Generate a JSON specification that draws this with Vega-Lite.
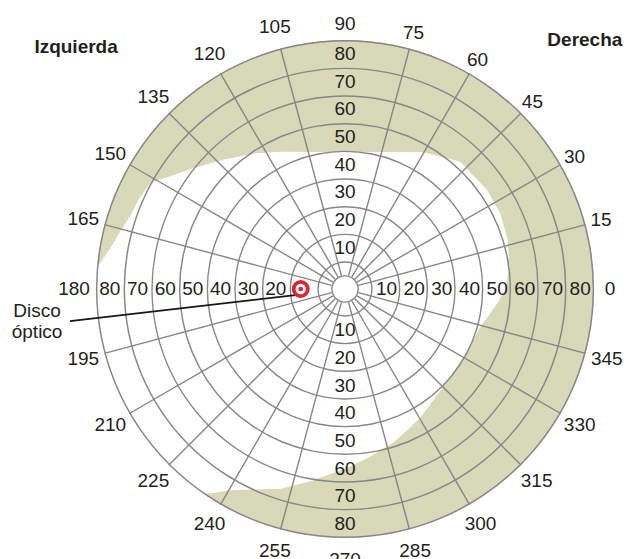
{
  "$schema": "https://vega.github.io/schema/vega-lite/v6.json",
  "width": 498,
  "height": 498,
  "autosize": {"type": "none"},
  "padding": {"left": 96, "top": 40, "right": 37, "bottom": 21},
  "background": "white",
  "config": {"view": {"stroke": null}},
  "datasets": {
    "rings": [{"r": 5}, {"r": 10}, {"r": 20}, {"r": 30}, {"r": 40}, {"r": 50}, {"r": 60}, {"r": 70}, {"r": 80}, {"r": 90}],
    "spokes": [{"a": 15}, {"a": 30}, {"a": 45}, {"a": 60}, {"a": 75}, {"a": 105}, {"a": 120}, {"a": 135}, {"a": 150}, {"a": 165}, {"a": 195}, {"a": 210}, {"a": 225}, {"a": 240}, {"a": 255}, {"a": 285}, {"a": 300}, {"a": 315}, {"a": 330}, {"a": 345}],
    "ringLabels": [
      {"a": 90, "ring": 10}, {"a": 90, "ring": 20}, {"a": 90, "ring": 30}, {"a": 90, "ring": 40}, {"a": 90, "ring": 50}, {"a": 90, "ring": 60}, {"a": 90, "ring": 70}, {"a": 90, "ring": 80},
      {"a": 270, "ring": 10}, {"a": 270, "ring": 20}, {"a": 270, "ring": 30}, {"a": 270, "ring": 40}, {"a": 270, "ring": 50}, {"a": 270, "ring": 60}, {"a": 270, "ring": 70}, {"a": 270, "ring": 80},
      {"a": 0, "ring": 10}, {"a": 0, "ring": 20}, {"a": 0, "ring": 30}, {"a": 0, "ring": 40}, {"a": 0, "ring": 50}, {"a": 0, "ring": 60}, {"a": 0, "ring": 70}, {"a": 0, "ring": 80},
      {"a": 180, "ring": 20}, {"a": 180, "ring": 30}, {"a": 180, "ring": 40}, {"a": 180, "ring": 50}, {"a": 180, "ring": 60}, {"a": 180, "ring": 70}, {"a": 180, "ring": 80}
    ],
    "angleLabels": [{"a": 0}, {"a": 15}, {"a": 30}, {"a": 45}, {"a": 60}, {"a": 75}, {"a": 90}, {"a": 105}, {"a": 120}, {"a": 135}, {"a": 150}, {"a": 165}, {"a": 180}, {"a": 195}, {"a": 210}, {"a": 225}, {"a": 240}, {"a": 255}, {"a": 270}, {"a": 285}, {"a": 300}, {"a": 315}, {"a": 330}, {"a": 345}],
    "field": [
      {"x": 58.0, "y": 0.0}, {"x": 59.4, "y": 8.3}, {"x": 58.8, "y": 18.0}, {"x": 56.1, "y": 27.4}, {"x": 51.3, "y": 35.9}, {"x": 41.5, "y": 46.1}, {"x": 28.5, "y": 49.4}, {"x": 20.0, "y": 49.5}, {"x": 8.7, "y": 49.5}, {"x": 0, "y": 49.5}, {"x": -8.7, "y": 49.5}, {"x": -23.1, "y": 49.6}, {"x": -31.9, "y": 49.1}, {"x": -43.6, "y": 46.8}, {"x": -55.6, "y": 43.5}, {"x": -64.4, "y": 40.3}, {"x": -70.0, "y": 38.8}, {"x": -74.2, "y": 33.0}, {"x": -77.5, "y": 26.7}, {"x": -81.5, "y": 20.3}, {"x": -84.7, "y": 14.9}, {"x": -88.5, "y": 9.3}, {"x": -92.9, "y": 4.9}, {"x": -87.4, "y": -31.8}, {"x": -71.2, "y": -59.8}, {"x": -57.3, "y": -73.3}, {"x": -51.6, "y": -73.7}, {"x": -47.9, "y": -73.8}, {"x": -42.0, "y": -72.7}, {"x": -33.8, "y": -72.5}, {"x": -23.5, "y": -72.3}, {"x": -12.2, "y": -69.4}, {"x": 0, "y": -65}, {"x": 8.6, "y": -60.9}, {"x": 17.9, "y": -55.2}, {"x": 27.0, "y": -46.8}, {"x": 34.4, "y": -36.9}, {"x": 37.9, "y": -31.8}, {"x": 42.7, "y": -24.7}, {"x": 47.0, "y": -17.1}, {"x": 49.3, "y": -13.2}, {"x": 52.2, "y": -9.2}, {"x": 55.3, "y": -4.8}
    ],
    "sides": [{"label": "Izquierda", "x": -97.2, "y": 87.5}, {"label": "Derecha", "x": 86.7, "y": 90.0}]
  },
  "layer": [
    {
      "data": {"values": [{"zone": "campo ciego"}]},
      "mark": {"type": "arc", "theta": 0, "theta2": 6.2832, "fill": "#d8d9b9"},
      "encoding": {"radius": {"datum": 90, "type": "quantitative", "scale": {"type": "linear", "domain": [0, 90], "range": [0, 249], "zero": true, "nice": false}}}
    },
    {
      "data": {"name": "field"},
      "mark": {"type": "line", "filled": true, "fill": "white", "interpolate": "linear-closed", "strokeWidth": 0},
      "encoding": {
        "x": {"field": "x", "type": "quantitative", "scale": {"domain": [-90, 90], "nice": false, "zero": false}, "axis": null},
        "y": {"field": "y", "type": "quantitative", "scale": {"domain": [-90, 90], "nice": false, "zero": false}, "axis": null},
        "order": {"value": null}
      }
    },
    {
      "data": {"name": "rings"},
      "mark": {"type": "arc", "theta": 0, "theta2": 6.2832, "fill": "#868686", "radius2Offset": -1.4},
      "encoding": {
        "radius": {"field": "r", "type": "quantitative", "scale": {"type": "linear", "domain": [0, 90], "range": [0, 249], "zero": true, "nice": false}},
        "radius2": {"field": "r"}
      }
    },
    {
      "data": {"name": "spokes"},
      "mark": {"type": "arc", "filled": false, "stroke": "#868686", "strokeWidth": 1.4},
      "encoding": {
        "theta": {"field": "a", "type": "quantitative", "stack": null, "scale": {"type": "linear", "domain": [0, 360], "range": [1.5707963, -4.712389]}},
        "theta2": {"field": "a"},
        "radius": {"datum": 90, "type": "quantitative", "scale": {"type": "linear", "domain": [0, 90], "range": [0, 249], "zero": true, "nice": false}},
        "radius2": {"datum": 5}
      }
    },
    {
      "data": {"name": "ringLabels"},
      "mark": {"type": "text", "radiusOffset": 13.8, "font": "Liberation Sans", "fontSize": 19, "fill": "#231f20", "align": "center", "baseline": "middle"},
      "encoding": {
        "theta": {"field": "a", "type": "quantitative", "stack": null, "scale": {"type": "linear", "domain": [0, 360], "range": [1.5707963, -4.712389]}},
        "radius": {"field": "ring", "type": "quantitative", "scale": {"type": "linear", "domain": [0, 90], "range": [0, 249], "zero": true, "nice": false}},
        "text": {"field": "ring", "type": "quantitative"}
      }
    },
    {
      "data": {"name": "angleLabels"},
      "transform": [{"filter": "datum.a <= 90"}],
      "mark": {"type": "text", "radiusOffset": 16, "font": "Liberation Sans", "fontSize": 19, "fill": "#231f20", "align": "center", "baseline": "middle"},
      "encoding": {
        "theta": {"field": "a", "type": "quantitative", "stack": null, "scale": {"type": "linear", "domain": [0, 360], "range": [1.5707963, -4.712389]}},
        "radius": {"datum": 90, "type": "quantitative", "scale": {"type": "linear", "domain": [0, 90], "range": [0, 249], "zero": true, "nice": false}},
        "text": {"field": "a", "type": "quantitative"}
      }
    },
    {
      "data": {"name": "angleLabels"},
      "transform": [{"filter": "datum.a > 90"}],
      "mark": {"type": "text", "radiusOffset": 22, "font": "Liberation Sans", "fontSize": 19, "fill": "#231f20", "align": "center", "baseline": "middle"},
      "encoding": {
        "theta": {"field": "a", "type": "quantitative", "stack": null, "scale": {"type": "linear", "domain": [0, 360], "range": [1.5707963, -4.712389]}},
        "radius": {"datum": 90, "type": "quantitative", "scale": {"type": "linear", "domain": [0, 90], "range": [0, 249], "zero": true, "nice": false}},
        "text": {"field": "a", "type": "quantitative"}
      }
    },
    {
      "data": {"name": "sides"},
      "mark": {"type": "text", "font": "Liberation Sans", "fontSize": 19, "fontWeight": "bold", "fill": "#231f20", "align": "center", "baseline": "middle"},
      "encoding": {
        "x": {"field": "x", "type": "quantitative"},
        "y": {"field": "y", "type": "quantitative"},
        "text": {"field": "label", "type": "nominal"}
      }
    },
    {
      "data": {"values": [{"x": -99.4, "y": -11.6, "x2": -18.0, "y2": -2.2}]},
      "mark": {"type": "rule", "stroke": "#161616", "strokeWidth": 1.6},
      "encoding": {
        "x": {"field": "x", "type": "quantitative"},
        "y": {"field": "y", "type": "quantitative"},
        "x2": {"field": "x2"},
        "y2": {"field": "y2"}
      }
    },
    {
      "data": {"values": [{"t": "Disco óptico", "x": -111.3, "y": -8.0}]},
      "mark": {"type": "text", "font": "Liberation Sans", "fontSize": 19, "fill": "#231f20", "align": "center", "baseline": "middle", "lineBreak": " ", "lineHeight": 21},
      "encoding": {
        "x": {"field": "x", "type": "quantitative"},
        "y": {"field": "y", "type": "quantitative"},
        "text": {"field": "t", "type": "nominal"}
      }
    },
    {
      "data": {"values": [{"x": -16, "y": 0}]},
      "mark": {"type": "point", "shape": "circle", "filled": false, "fill": "white", "stroke": "#e2232f", "strokeWidth": 3.8, "size": 200, "opacity": 1},
      "encoding": {
        "x": {"field": "x", "type": "quantitative"},
        "y": {"field": "y", "type": "quantitative"}
      }
    },
    {
      "data": {"values": [{"x": -16, "y": 0}]},
      "mark": {"type": "point", "shape": "circle", "filled": true, "fill": "#e2232f", "size": 22, "opacity": 1},
      "encoding": {
        "x": {"field": "x", "type": "quantitative"},
        "y": {"field": "y", "type": "quantitative"}
      }
    }
  ]
}
